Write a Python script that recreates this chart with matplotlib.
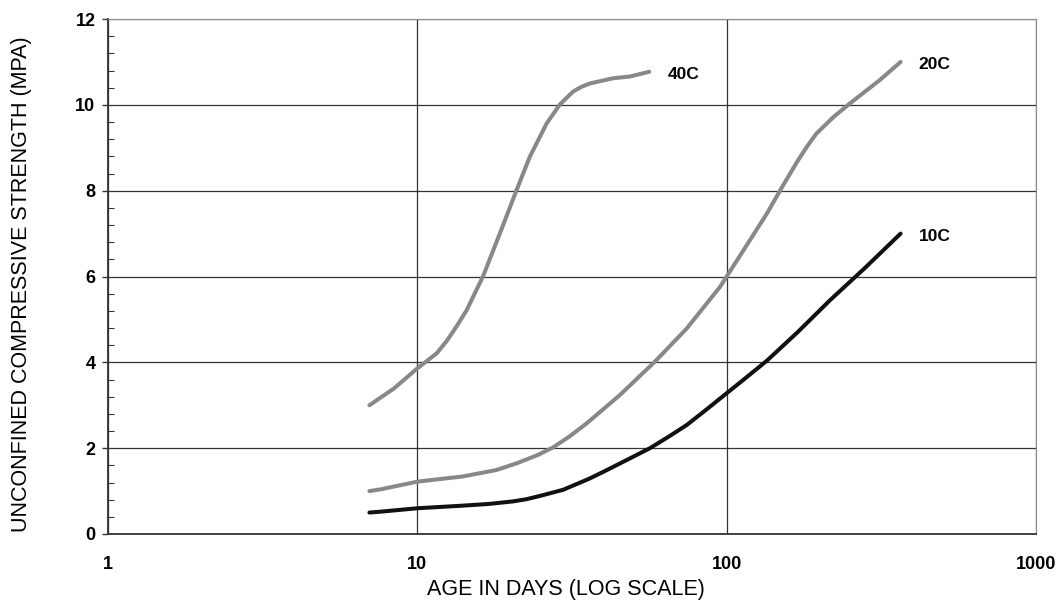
import numpy as np
import matplotlib
matplotlib.use("Agg")
import matplotlib.pyplot as plt
from matplotlib.ticker import FixedLocator, MultipleLocator, NullLocator

# strength-age curves
days_10c = [7, 7.6, 10, 14, 17, 20.4, 22.5, 25, 29.6, 36, 41, 48, 56.5, 65, 74.3, 86, 100, 110.5, 135, 170, 216, 280, 365]
str_10c = [0.50, 0.52, 0.60, 0.66, 0.70, 0.76, 0.81, 0.89, 1.03, 1.29, 1.49, 1.74, 2.0, 2.27, 2.54, 2.9, 3.28, 3.53, 4.04, 4.71, 5.45, 6.2, 7.0]

days_20c = [7, 7.6, 10, 14, 18, 21, 24.5, 27.5, 31, 35.3, 45.2, 58.7, 74.3, 95.2, 100, 119, 135, 149, 168.5,
            181.5, 195, 221, 250, 313, 365]
str_20c = [1.0, 1.04, 1.22, 1.34, 1.49, 1.65, 1.84, 2.02, 2.27, 2.58, 3.24, 4.02, 4.79, 5.76, 6.0, 6.85, 7.47, 8.01, 8.66,
           9.02, 9.33, 9.71, 10.03, 10.58, 11.0]

days_40c = [7, 8.4, 10, 11.55, 12.45, 13.4, 14.45, 15.2, 16.3, 18.5, 20.9, 23.1, 26.2, 28.9, 31.9, 33.9, 36.2, 43.0, 48.7, 56.2]
str_40c = [3.0, 3.39, 3.86, 4.21, 4.50, 4.84, 5.22, 5.55, 6.0, 7.01, 8.0, 8.79, 9.57, 10.01, 10.31, 10.42, 10.50, 10.62, 10.66, 10.77]

curve_labels = ["10C", "20C", "40C"]
x_ticks = [1, 10, 100, 1000]
x_ticklabels = ["1", "10", "100", "1000"]
y_ticks = [0, 2, 4, 6, 8, 10, 12]

plt.rcParams['font.family'] = ['Liberation Sans', 'DejaVu Sans']

fig = plt.figure(figsize=(10.58, 6.06), dpi=100)
ax = fig.add_axes([108/1058, 1 - 534/606, 928/1058, 515/606])

series = [(days_10c, str_10c, '#111111'),
          (days_20c, str_20c, '#888888'),
          (days_40c, str_40c, '#888888')]
for (d, s, col), lab in zip(series, curve_labels):
    ax.plot(d, s, color=col, lw=2.9, solid_capstyle='round',
            solid_joinstyle='round', zorder=3)
    ax.annotate(lab, (d[-1], s[-1]), xytext=(13, -2), textcoords='offset points',
                ha='left', va='center', fontsize=12.5, fontweight='bold')

ax.set_xscale('log')
ax.set_xlim(1, 1000)
ax.set_ylim(0, 12)

ax.xaxis.set_major_locator(FixedLocator(x_ticks))
ax.xaxis.set_minor_locator(NullLocator())
ax.set_xticklabels(x_ticklabels)
ax.set_yticks(y_ticks)
ax.yaxis.set_minor_locator(MultipleLocator(0.4))

ax.tick_params(axis='x', which='both', length=0, pad=16, labelsize=13)
ax.tick_params(axis='y', which='major', direction='out', length=4, width=1,
               color='#333333', pad=5, labelsize=13)
ax.tick_params(axis='y', which='minor', direction='in', length=4, width=0.8,
               color='#333333')
for t in ax.get_xticklabels() + ax.get_yticklabels():
    t.set_fontweight('bold')

ax.grid(True, which='major', color='#333333', lw=0.9)
ax.set_axisbelow(True)

ax.spines['left'].set_color('#333333')
ax.spines['bottom'].set_color('#333333')
ax.spines['left'].set_linewidth(1.3)
ax.spines['bottom'].set_linewidth(1.3)
ax.spines['top'].set_color('#8a8a8a')
ax.spines['right'].set_color('#8a8a8a')

ax.set_xlabel('AGE IN DAYS (LOG SCALE)', fontsize=15.5)
ax.set_ylabel('UNCONFINED COMPRESSIVE STRENGTH (MPA)', fontsize=15.5)
ax.xaxis.set_label_coords(0.494, -0.0874)
ax.yaxis.set_label_coords(-0.082, 0.485)

fig.savefig('out.png', dpi=100, facecolor='white')
